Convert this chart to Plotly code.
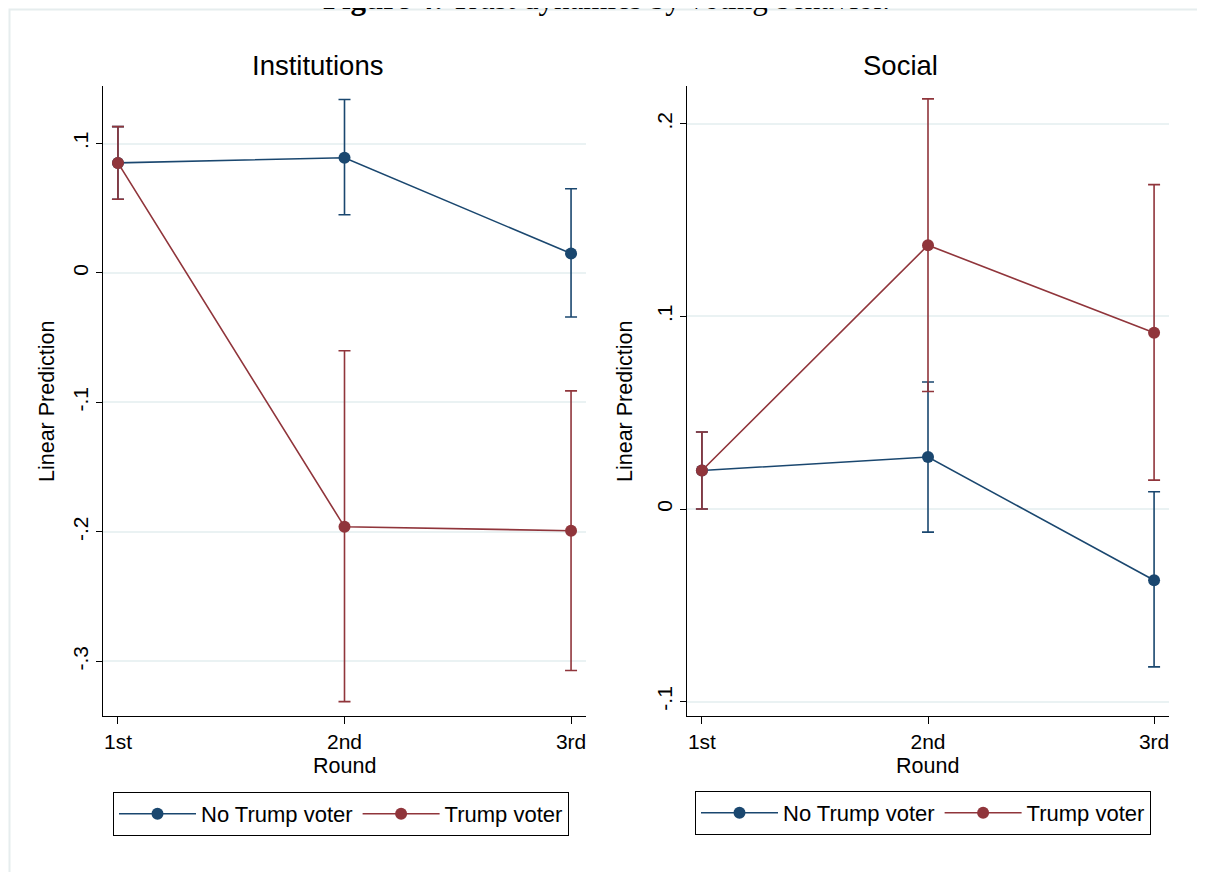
import plotly.graph_objects as go

# ---------------- data ----------------
rounds = ["1st", "2nd", "3rd"]
round_pos = [1, 2, 3]

inst_no = [0.085, 0.089, 0.015]
inst_no_hi = [0.113, 0.134, 0.065]
inst_no_lo = [0.057, 0.045, -0.034]

inst_tr = [0.085, -0.196, -0.199]
inst_tr_hi = [0.113, -0.060, -0.091]
inst_tr_lo = [0.057, -0.331, -0.307]

soc_no = [0.020, 0.027, -0.037]
soc_no_hi = [0.040, 0.066, 0.009]
soc_no_lo = [0.000, -0.012, -0.082]

soc_tr = [0.020, 0.137, 0.0915]
soc_tr_hi = [0.040, 0.213, 0.1685]
soc_tr_lo = [0.000, 0.061, 0.015]

inst_ticks = [-0.3, -0.2, -0.1, 0, 0.1]
inst_ticktext = ["-.3", "-.2", "-.1", "0", ".1"]
soc_ticks = [-0.1, 0, 0.1, 0.2]
soc_ticktext = ["-.1", "0", ".1", ".2"]

BLUE = "#1a476f"
RED = "#90353b"
FONT = "Liberation Sans, Arial, Helvetica, sans-serif"
W, H = 1205, 872
OFF = 8  # page body margin


def px(x):
    return (x - OFF) / W


def py(y):
    return 1 - (y - OFF) / H


def trace(x, y, hi, lo, color, name, xa, ya, legend, show=True):
    return go.Scatter(
        x=x, y=y, mode="lines+markers", name=name,
        line=dict(color=color, width=1.6),
        marker=dict(color=color, size=12),
        error_y=dict(type="data", symmetric=False,
                     array=[h - v for h, v in zip(hi, y)],
                     arrayminus=[v - l for v, l in zip(y, lo)],
                     color=color, thickness=1.6, width=6),
        xaxis=xa, yaxis=ya, legend=legend, showlegend=show,
    )


fig = go.Figure()
fig.add_trace(trace(round_pos, inst_no, inst_no_hi, inst_no_lo, BLUE, "No Trump voter", "x", "y", "legend"))
fig.add_trace(trace(round_pos, inst_tr, inst_tr_hi, inst_tr_lo, RED, "Trump voter", "x", "y", "legend"))
fig.add_trace(trace(round_pos, soc_no, soc_no_hi, soc_no_lo, BLUE, "No Trump voter", "x2", "y2", "legend2"))
fig.add_trace(trace(round_pos, soc_tr, soc_tr_hi, soc_tr_lo, RED, "Trump voter", "x2", "y2", "legend2"))

xcommon = dict(
    tickvals=round_pos, ticktext=rounds, range=[0.934, 3.066],
    showline=True, linecolor="black", linewidth=1,
    ticks="outside", ticklen=7, tickcolor="black", tickwidth=1,
    showgrid=False, zeroline=False,
    tickfont=dict(family=FONT, size=21, color="black"),
)
ycommon = dict(
    showline=True, linecolor="black", linewidth=1,
    ticks="outside", ticklen=6, tickcolor="black", tickwidth=1,
    showgrid=True, gridcolor="#eaf2f3", gridwidth=1.5, zeroline=False,
    tickangle=-90,
    tickfont=dict(family=FONT, size=21, color="black"),
)

legcommon = dict(
    orientation="h", xanchor="left", yanchor="top",
    bordercolor="black", borderwidth=1, bgcolor="white",
    font=dict(family=FONT, size=22, color="black"),
    itemwidth=77,
)

fig.update_layout(
    width=W, height=H,
    margin=dict(l=0, r=0, t=0, b=0, autoexpand=False),
    paper_bgcolor="white", plot_bgcolor="white",
    font=dict(family=FONT, color="black"),
    xaxis=dict(domain=[px(103), px(586)], anchor="y", **xcommon),
    yaxis=dict(domain=[py(716), py(86)], anchor="x", range=[-0.3421, 0.1444],
               tickvals=inst_ticks, ticktext=inst_ticktext, **ycommon),
    xaxis2=dict(domain=[px(687), px(1169)], anchor="y2", **xcommon),
    yaxis2=dict(domain=[py(716), py(86)], anchor="x2", range=[-0.1075, 0.2197],
                tickvals=soc_ticks, ticktext=soc_ticktext, **ycommon),
    legend=dict(x=px(113), y=py(792), **legcommon),
    legend2=dict(x=px(695), y=py(791), **legcommon),
)

anns = [
    dict(text="Institutions", x=px(317), y=py(66), size=27.5),
    dict(text="Social", x=px(900), y=py(66), size=27.5),
    dict(text="Round", x=px(344), y=py(766), size=21.5),
    dict(text="Round", x=px(928), y=py(766), size=21.5),
]
for a in anns:
    fig.add_annotation(text=a["text"], x=a["x"], y=a["y"], xref="paper", yref="paper",
                       showarrow=False, xanchor="center", yanchor="middle",
                       font=dict(family=FONT, size=a["size"], color="black"))
for xx in (47, 625):
    fig.add_annotation(text="Linear Prediction", x=px(xx), y=py(402), xref="paper", yref="paper",
                       showarrow=False, textangle=-90, xanchor="center", yanchor="middle",
                       font=dict(family=FONT, size=21.5, color="black"))

# cropped figure caption at the very top
fig.add_annotation(text="<b>Figure 4:</b> Trust dynamics by voting behavior.",
                   x=px(606), y=py(-1.5), xref="paper", yref="paper",
                   showarrow=False, xanchor="center", yanchor="middle",
                   font=dict(family="Liberation Serif, Times New Roman, serif", size=31, color="black"))

# light outer frame
fig.add_shape(type="rect", xref="paper", yref="paper",
              x0=1.5 / W, x1=1.02, y0=-0.02, y1=1 - 1.5 / H,
              line=dict(color="#e6edee", width=2), layer="below")

fig.write_html("out.html")
